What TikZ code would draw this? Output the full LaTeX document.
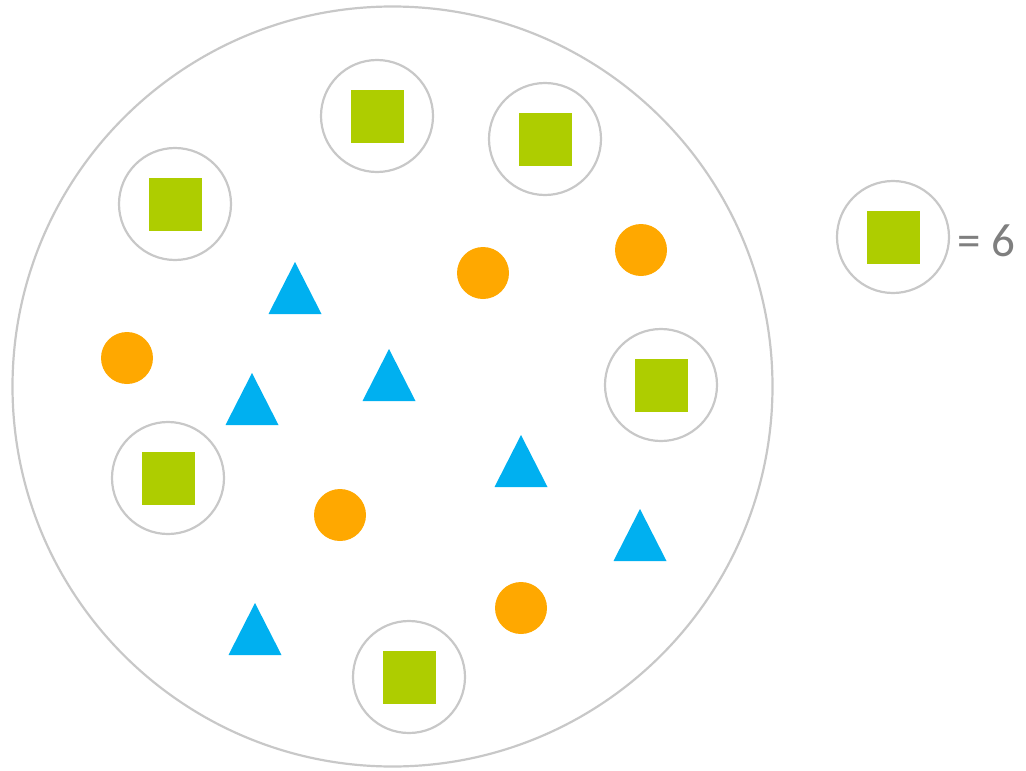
\documentclass[tikz,border=0pt]{standalone}
\usepackage{fontspec}
\setmainfont{Carlito}
\definecolor{ring}{HTML}{C8C8C8}
\definecolor{lime}{HTML}{AECD00}
\definecolor{sky}{HTML}{00B0F0}
\definecolor{amber}{HTML}{FFA800}
\definecolor{txt}{HTML}{7F7F7F}
\begin{document}
\begin{tikzpicture}[x=1pt,y=-1pt,
  ringc/.style={circle,draw=ring,line width=2.2pt,minimum size=112pt,inner sep=0pt},
  sq/.style={rectangle,fill=lime,minimum size=53pt,inner sep=0pt},
  dot/.style={circle,fill=amber,minimum size=52pt,inner sep=0pt},
  tri/.style={fill=sky}]
\useasboundingbox (0,0) rectangle (1026,771);
\node[circle,draw=ring,line width=2.2pt,minimum size=760pt,inner sep=0pt] (big) at (392.5,386.5) {};
% ringed squares
\foreach \n/\x/\y in {r1/377/116, r2/545/139, r3/175/204, r4/661/385, r5/168/478, r6/409/677, leg/893/237}{
  \node[ringc] (\n) at (\x,\y) {};
  \node[sq] (s\n) at (\x,\y) {};
}
% dots
\foreach \n/\x/\y in {d1/483/273, d2/641/250, d3/127/358, d4/340/515, d5/521/608}{
  \node[dot] (\n) at (\x,\y) {};
}
% triangles (apex x, apex y)
\foreach \x/\y in {295/262, 252/373, 389/349, 521/435, 640/509, 255/603}{
  \fill[tri] (\x,\y) -- (\x+26.5,\y+52) -- (\x-26.5,\y+52) -- cycle;
}
\node[anchor=west,text=txt,font=\fontsize{47}{50}\selectfont,inner sep=0pt] (eq) at (957,241) {= 6};
\end{tikzpicture}
\end{document}
